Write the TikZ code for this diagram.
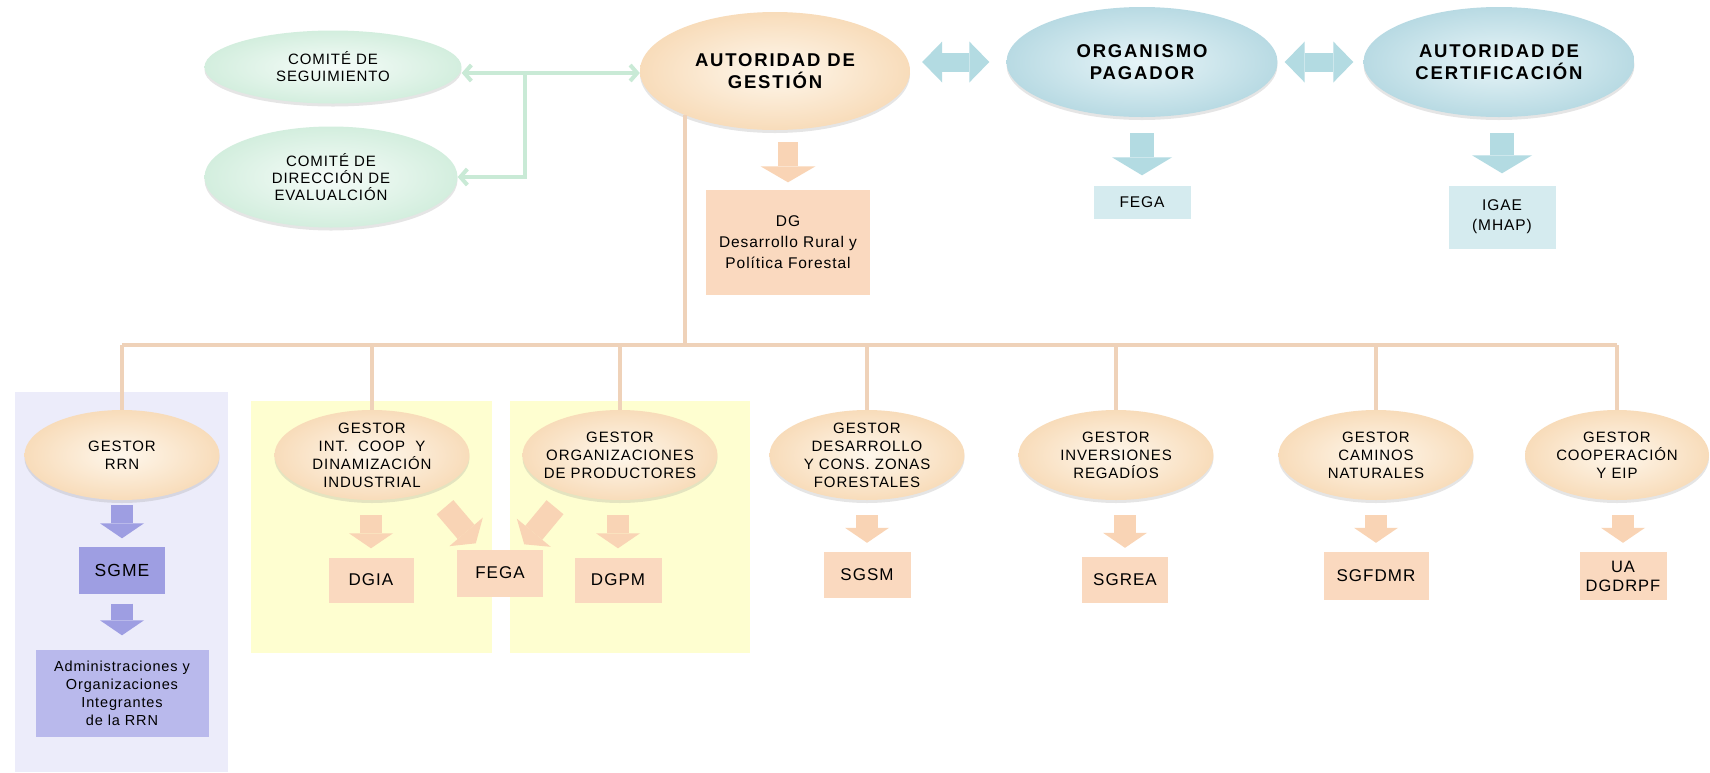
\documentclass[tikz,border=0pt]{standalone}
\usepackage{fontspec}
\setmainfont{Liberation Sans}[LetterSpace=6]
\usetikzlibrary{shapes.geometric,arrows.meta,shadows,calc}

\definecolor{peachin}{HTML}{FEF7EC}
\definecolor{peachout}{HTML}{F8DCBA}
\definecolor{greenin}{HTML}{F6FCF9}
\definecolor{greenout}{HTML}{D3EEDE}
\definecolor{bluein}{HTML}{E8F5F8}
\definecolor{blueout}{HTML}{B8DAE3}
\definecolor{peachbox}{HTML}{FAD9BF}
\definecolor{bluebox}{HTML}{D5EBEF}
\definecolor{peacharrow}{HTML}{F9D4B5}
\definecolor{bluearrow}{HTML}{B3DBE2}
\definecolor{purplebox}{HTML}{9E9EE2}
\definecolor{lilacbox}{HTML}{B9B9EC}
\definecolor{panelblue}{HTML}{ECECFA}
\definecolor{panelyellow}{HTML}{FEFED0}
\definecolor{orgline}{HTML}{EFD2B9}
\definecolor{greenline}{HTML}{C9EAD6}

\tikzset{
  egg/.style={ellipse, inner sep=-12pt, align=center, text=black,
    drop shadow={opacity=0.2, shadow xshift=0pt, shadow yshift=-3pt}},
  eggpeach/.style={inner color=peachin, outer color=peachout},
  egggreen/.style={inner color=greenin, outer color=greenout},
  eggblue/.style={inner color=bluein, outer color=blueout},
  comite/.style={egg, egggreen, font=\fontsize{15}{17}\selectfont},
  mayor/.style={egg, font=\fontsize{18.5}{22}\selectfont\bfseries\addfontfeatures{LetterSpace=10}},
  gestor/.style={egg, eggpeach, minimum height=90, font=\fontsize{15}{18}\selectfont},
  caja/.style={rectangle, fill=#1, inner sep=0pt, align=center, text=black,
    font=\fontsize{17}{20}\selectfont},
  linea/.style={draw=orgline, line width=4},
  verde/.style={draw=greenline, line width=4},
  barb/.tip={Straight Barb[length=7pt, width=16pt]},
  fat/.style={line width=22, draw=#1, -{Triangle[length=15pt, width=44pt, line width=0pt]}},
  doble/.style={line width=19, draw=bluearrow,
    {Triangle[length=20pt, width=41pt, line width=0pt]}-{Triangle[length=20pt, width=41pt, line width=0pt]}}
}

\begin{document}
\begin{tikzpicture}[x=1pt, y=-1pt]
  \useasboundingbox (0,0) rectangle (1710,772);
  \fill[white] (0,0) rectangle (1710,772);
  % panels behind the gestores
  \fill[panelblue] (15,392) rectangle (228,772);
  \fill[panelyellow] (251,401) rectangle (492,653);
  \fill[panelyellow] (510,401) rectangle (750,653);

  % top row
  \node[comite, minimum width=257, minimum height=73] (seg) at (333,67) {COMITÉ DE\\SEGUIMIENTO};
  \node[comite, minimum width=253, minimum height=101] (dir) at (331,177) {COMITÉ DE\\DIRECCIÓN DE\\EVALUALCIÓN};
  \node[mayor, eggpeach, minimum width=270, minimum height=118] (ag) at (775,71) {AUTORIDAD DE\\GESTIÓN};
  \node[mayor, eggblue, minimum width=271, minimum height=110] (op) at (1142,62) {ORGANISMO\\PAGADOR};
  \node[mayor, eggblue, minimum width=271, minimum height=110] (ac) at (1499,62) {AUTORIDAD DE\\CERTIFICACIÓN};

  \node[caja=peachbox, minimum width=164, minimum height=105, font=\fontsize{15.5}{21}\selectfont] (dg) at (788,242) {DG\\Desarrollo Rural y\\Política Forestal};
  \node[caja=bluebox, minimum width=97, minimum height=33, font=\fontsize{15.5}{20}\selectfont] (fegaop) at (1142,202) {FEGA};
  \node[caja=bluebox, minimum width=107, minimum height=63, font=\fontsize{15.5}{20}\selectfont] (igae) at (1502,217) {IGAE\\(MHAP)};

  % comites
  \coordinate (gj) at (525,73);
  \draw[verde, barb-barb] (seg.east |- gj) -- (ag.west |- gj);
  \draw[verde, -barb] (gj) |- (dir.east);

  % top block arrows
  \draw[doble] ($(ag.east)+(12,-9)$) -- ($(op.west)+(-17,0)$);
  \draw[doble] ($(op.east)+(7,0)$) -- ($(ac.west)+(-10,0)$);
  \draw[fat=peacharrow, line width=20, -{Triangle[length=16pt, width=55pt, line width=0pt]},
    shorten <=12, shorten >=7] (dg.north |- ag.south) -- (dg.north);
  \draw[fat=bluearrow, line width=24, -{Triangle[length=18pt, width=60pt, line width=0pt]},
    shorten <=16, shorten >=10] (fegaop.north |- op.south) -- (fegaop.north);
  \draw[fat=bluearrow, line width=24, -{Triangle[length=18pt, width=60pt, line width=0pt]},
    shorten <=16, shorten >=12] (igae.north |- ac.south) -- (igae.north);

  % bus to the gestores
  \coordinate (bus) at (685,345);
  \draw[linea] (ag.206) -- (ag.206 |- bus);
  \foreach \x/\w/\txt [count=\i] in {122/195/{GESTOR\\RRN},
      372/195/{GESTOR\\INT.~~COOP~~Y\\DINAMIZACIÓN\\INDUSTRIAL},
      620/195/{GESTOR\\ORGANIZACIONES\\DE PRODUCTORES},
      867/195/{GESTOR\\DESARROLLO\\Y CONS. ZONAS\\FORESTALES},
      1116/195/{GESTOR\\INVERSIONES\\REGADÍOS},
      1376/195/{GESTOR\\CAMINOS\\NATURALES},
      1617/184/{GESTOR\\COOPERACIÓN\\Y EIP}} {
    \node[gestor, minimum width=\w] (g\i) at (\x,455) {\txt};
    \draw[linea] (g\i.north) -- (g\i.north |- bus);
  }
  \draw[linea] (g1.north |- bus) -- (g7.north |- bus);

  % RRN column
  \node[caja=purplebox, minimum width=86, minimum height=47, font=\fontsize{17.5}{20}\selectfont] (sgme) at (122,570) {SGME};
  \node[caja=lilacbox, minimum width=173, minimum height=87, font=\fontsize{14.5}{18}\selectfont] (rrn) at (122,693) {Administraciones y\\Organizaciones\\Integrantes\\de la RRN};
  \draw[fat=purplebox, shorten <=5, shorten >=8] (sgme.north |- g1.south) -- (sgme.north);
  \draw[fat=purplebox, shorten <=10, shorten >=14] (sgme.south) -- (rrn.north);

  % boxes under the other gestores
  \node[caja=peachbox, minimum width=85, minimum height=45] (dgia) at (371,580) {DGIA};
  \node[caja=peachbox, minimum width=86, minimum height=47] (fega) at (500,573) {FEGA};
  \node[caja=peachbox, minimum width=87, minimum height=45] (dgpm) at (618,580) {DGPM};
  \node[caja=peachbox, minimum width=87, minimum height=46] (sgsm) at (867,575) {SGSM};
  \node[caja=peachbox, minimum width=86, minimum height=46] (sgrea) at (1125,580) {SGREA};
  \node[caja=peachbox, minimum width=105, minimum height=48] (sgfdmr) at (1376,576) {SGFDMR};
  \node[caja=peachbox, minimum width=87, minimum height=48, font=\fontsize{16.5}{19}\selectfont] (ua) at (1623,576) {UA\\DGDRPF};

  \foreach \g/\b in {g2/dgia, g3/dgpm, g4/sgsm, g5/sgrea, g6/sgfdmr, g7/ua}
    \draw[fat=peacharrow, shorten <=15, shorten >=9] (\b.north |- \g.south) -- (\b.north);
  \draw[fat=peacharrow] ($(g2.south)+(73,7)$) -- ($(fega.north west)+(19,-6)$);
  \draw[fat=peacharrow] ($(g3.south)+(-65,7)$) -- ($(fega.north east)+(-19,-5)$);
\end{tikzpicture}
\end{document}
